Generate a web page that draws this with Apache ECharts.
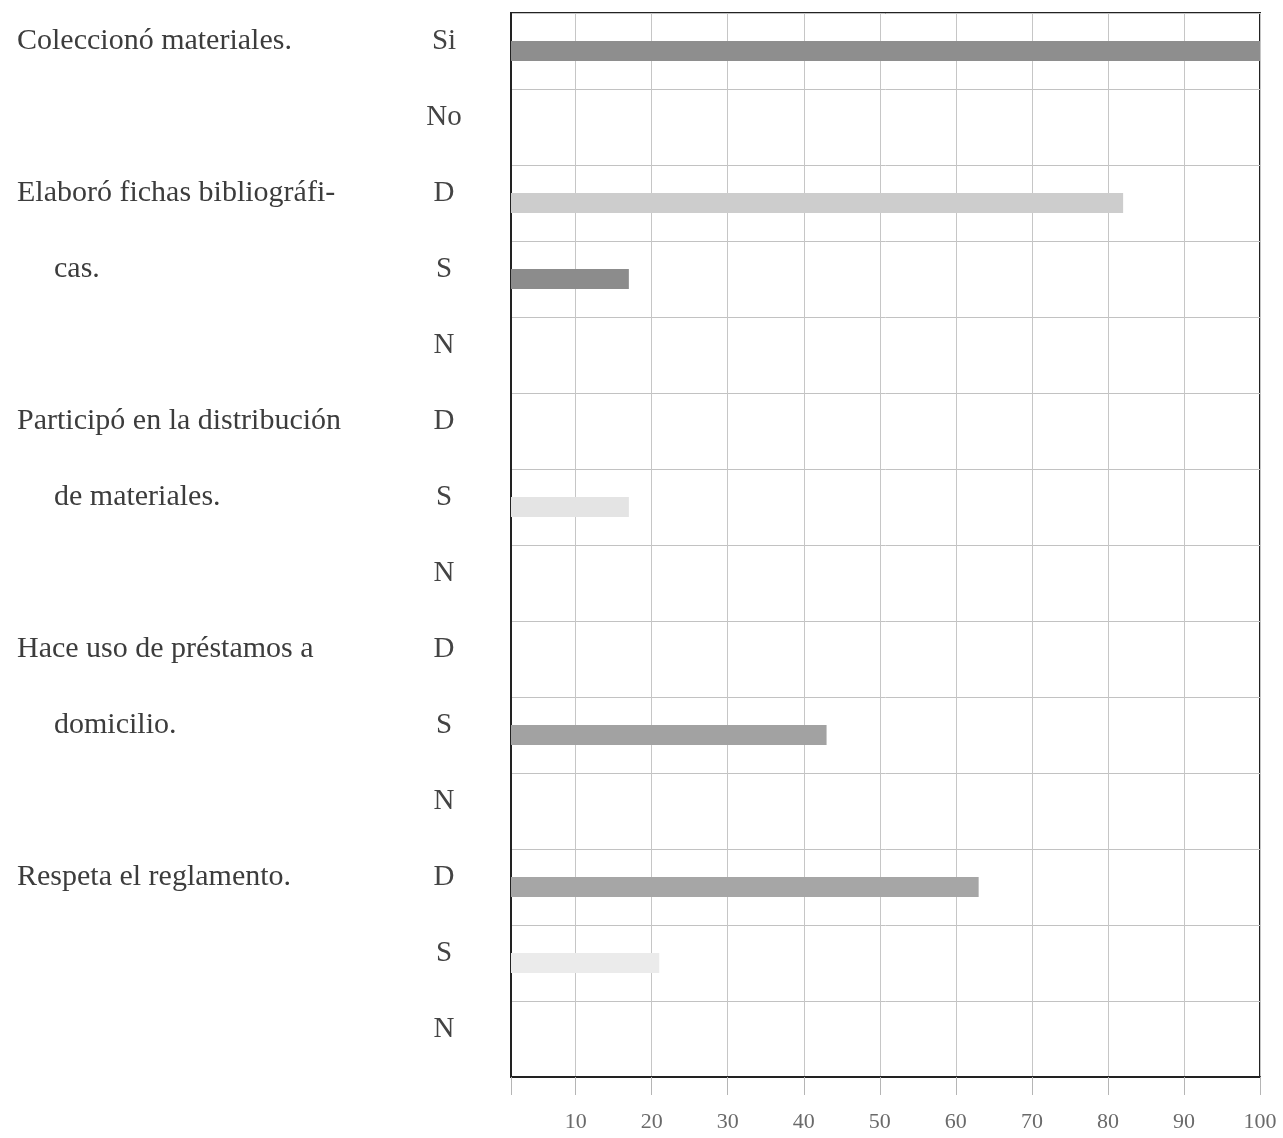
<!DOCTYPE html>
<html>
<head>
<meta charset="utf-8">
<script src="https://cdn.jsdelivr.net/npm/echarts@6/dist/echarts.min.js"></script>
<style>
  html, body { margin: 0; padding: 0; background: #ffffff; }
  #chart { width: 1283px; height: 1138px; }
</style>
</head>
<body>
<div id="chart"></div>
<script>
// ---- data ----
const categories = ['Si', 'No', 'D', 'S', 'N', 'D', 'S', 'N', 'D', 'S', 'N', 'D', 'S', 'N'];
const values = [100, 0, 82, 17, 0, 0, 17, 0, 0, 43, 0, 63, 21, 0];
const questionLines = [
  ['Coleccionó materiales.'],
  ['Elaboró fichas bibliográfi-', 'cas.'],
  ['Participó en la distribución', 'de materiales.'],
  ['Hace uso de préstamos a', 'domicilio.'],
  ['Respeta el reglamento.']
];
const questionRows = [2, 3, 3, 3, 3];
const xTickLabels = [10, 20, 30, 40, 50, 60, 70, 80, 90, 100];

// ---- styles ----
const barShades = ['#8e8e8e', '#8e8e8e', '#cdcdcd', '#8c8c8c', '#cccccc', '#cccccc', '#e4e4e4', '#cccccc',
                   '#cccccc', '#a2a2a2', '#cccccc', '#a6a6a6', '#ebebeb', '#cccccc'];
const serif = '"Liberation Serif", "Times New Roman", serif';

// build question label column aligned to the category rows
const questionAxis = [];
questionLines.forEach((lines, g) => {
  for (let r = 0; r < questionRows[g]; r++) {
    if (r < lines.length) {
      questionAxis.push(r === 0 ? '{a|' + lines[r] + '}' : '{c|' + lines[r] + '}');
    } else {
      questionAxis.push('');
    }
  }
});

const chart = echarts.init(document.getElementById('chart'), null, { renderer: 'canvas' });
const qFont = { fontFamily: serif, fontSize: 30, color: '#3c3c3c' };
const cFont = { fontFamily: serif, fontSize: 29, color: '#444444' };

chart.setOption({
  backgroundColor: '#ffffff',
  animation: false,
  grid: {
    left: 511, right: 23, top: 13, bottom: 61,
    show: true, borderColor: '#222222', borderWidth: 2, backgroundColor: 'transparent'
  },
  xAxis: {
    type: 'value',
    min: 1.5,
    max: 100,
    splitNumber: 10,
    minInterval: 10,
    maxInterval: 10,
    axisLine: { show: true, lineStyle: { color: '#222222', width: 2 } },
    axisTick: { show: true, length: 18, lineStyle: { color: '#b5b5b5', width: 1 } },
    splitLine: { show: true, lineStyle: { color: '#c6c6c6', width: 1 } },
    axisLabel: {
      margin: 34,
      fontFamily: serif,
      fontSize: 22,
      color: '#6a6a6a',
      formatter: function (v) { return xTickLabels.indexOf(Math.round(v)) >= 0 && Math.abs(v - Math.round(v)) < 1e-6 ? String(Math.round(v)) : ''; }
    }
  },
  yAxis: [
    {
      type: 'category',
      data: categories,
      inverse: true,
      position: 'left',
      axisLine: { show: true, lineStyle: { color: '#222222', width: 2 } },
      axisTick: { show: false },
      splitLine: { show: true, interval: 0, lineStyle: { color: '#c2c2c2', width: 1 } },
      axisLabel: {
        interval: 0,
        align: 'center',
        margin: 67,
        formatter: function (v) { return '{a|' + v + '}'; },
        rich: {
          a: Object.assign({ padding: [0, 0, 20, 0] }, cFont)
        }
      }
    },
    {
      type: 'category',
      data: questionAxis,
      inverse: true,
      position: 'left',
      axisLine: { show: false },
      axisTick: { show: false },
      splitLine: { show: false },
      axisLabel: {
        interval: 0,
        align: 'left',
        margin: 494,
        rich: {
          a: Object.assign({ padding: [0, 0, 20, 0] }, qFont),
          c: Object.assign({ padding: [0, 0, 20, 37] }, qFont)
        }
      }
    }
  ],
  series: [
    {
      type: 'bar',
      yAxisIndex: 0,
      barWidth: 20,
      data: values.map((v, i) => ({ value: v, itemStyle: { color: barShades[i] } })),
      silent: true
    }
  ]
});
</script>
</body>
</html>
